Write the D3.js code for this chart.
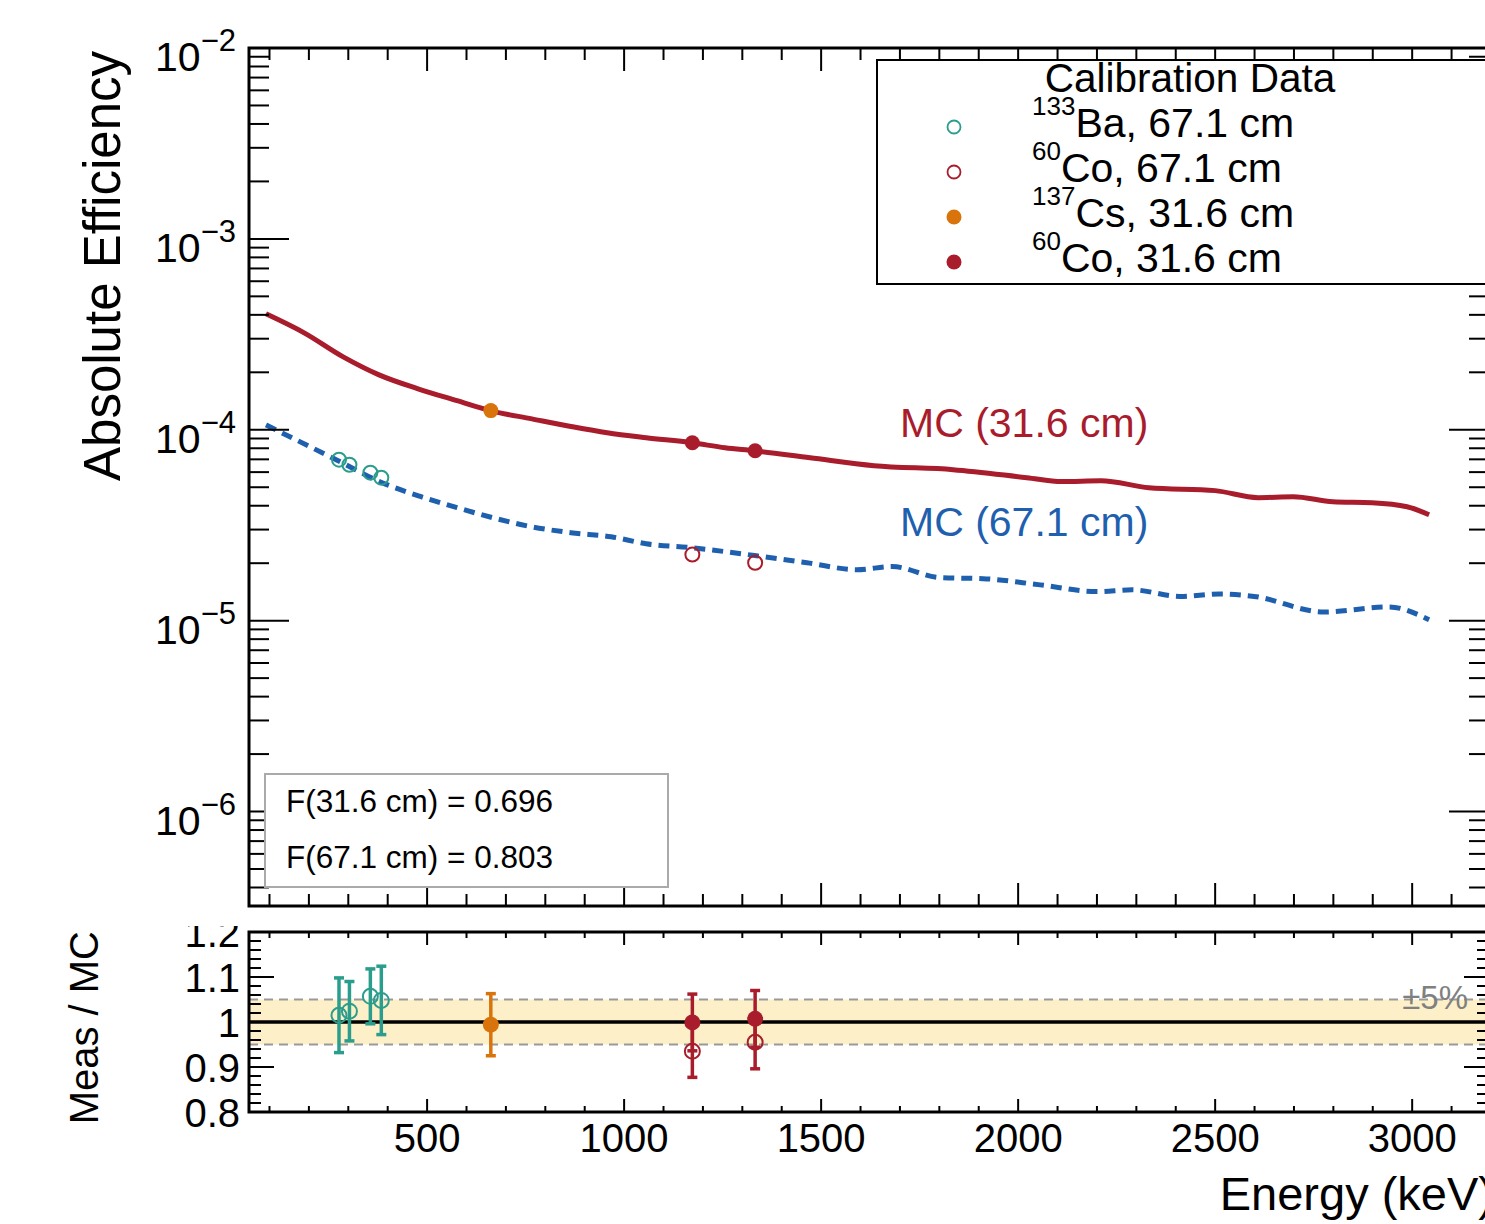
<!DOCTYPE html>
<html>
<head>
<meta charset="utf-8">
<script src="https://cdn.jsdelivr.net/npm/d3@7"></script>
<style>
  html, body { margin: 0; padding: 0; background: #fff; }
  svg { display: block; }
  text { font-family: "Liberation Sans", Arial, Helvetica, sans-serif; }
</style>
</head>
<body>
<div id="chart"></div>
<script>
// ---------------- data ----------------
// MC curve, 31.6 cm (solid red)
const mcNearEnergy = [91,188,287,378,477,576,660,766,865,957,1056,1172,1256,1330,1472,1634,1835,2022,2111,2210,2332,2500,2609,2698,2799,2898,2987,3043];
const mcNearEff = [4.05e-4,3.22e-4,2.41e-4,1.94e-4,1.64e-4,1.42e-4,1.26e-4,1.14e-4,1.04e-4,9.64e-5,9.08e-5,8.55e-5,8.05e-5,7.76e-5,7.13e-5,6.48e-5,6.18e-5,5.61e-5,5.35e-5,5.41e-5,4.97e-5,4.80e-5,4.41e-5,4.46e-5,4.20e-5,4.15e-5,3.95e-5,3.59e-5];
// MC curve, 67.1 cm (dashed blue)
const mcFarEnergy = [91,167,269,386,485,576,667,766,865,967,1056,1172,1256,1355,1464,1591,1680,1802,1911,2056,2200,2289,2411,2510,2599,2776,2941,3043];
const mcFarEff = [1.06e-4,8.87e-5,6.97e-5,5.28e-5,4.46e-5,3.91e-5,3.46e-5,3.10e-5,2.89e-5,2.75e-5,2.53e-5,2.41e-5,2.30e-5,2.16e-5,2.01e-5,1.85e-5,1.92e-5,1.68e-5,1.66e-5,1.54e-5,1.42e-5,1.45e-5,1.34e-5,1.38e-5,1.34e-5,1.11e-5,1.18e-5,1.01e-5];

// Calibration points
const ba133Energy = [276.4, 302.9, 356.0, 383.8];
const ba133Eff    = [6.97e-5, 6.56e-5, 5.96e-5, 5.61e-5];
const ba133Ratio  = [1.015, 1.024, 1.057, 1.048];
const ba133Err    = [0.083, 0.066, 0.061, 0.076];

const co60FarEnergy = [1173.2, 1332.5];
const co60FarEff    = [2.22e-5, 2.01e-5];
const co60FarRatio  = [0.935, 0.955];
const co60FarErr    = [0.058, 0.059];

const cs137Energy = [661.7];
const cs137Eff    = [1.26e-4];
const cs137Ratio  = [0.994];
const cs137Err    = [0.069];

const co60NearEnergy = [1173.2, 1332.5];
const co60NearEff    = [8.55e-5, 7.76e-5];
const co60NearRatio  = [0.999, 1.007];
const co60NearErr    = [0.063, 0.063];

const xTickLabels = [500, 1000, 1500, 2000, 2500, 3000];
const yMainDecades = [-6, -5, -4, -3, -2];
const yRatioLabels = ["0.8", "0.9", "1", "1.1", "1.2"];
const fValues = ["F(31.6 cm) = 0.696", "F(67.1 cm) = 0.803"];

const legendTitle = "Calibration Data";
const legendIso = ["133", "60", "137", "60"];
const legendText = ["Ba, 67.1 cm", "Co, 67.1 cm", "Cs, 31.6 cm", "Co, 31.6 cm"];

// ---------------- style ----------------
const C = {
  teal: "#2a9d8c",
  red: "#a81c2c",
  orange: "#d9730b",
  blue: "#1f60ae",
  band: "#fdf0c9",
  grey: "#999999"
};
const legendStyle = [
  {color: C.teal, open: true},
  {color: C.red, open: true},
  {color: C.orange, open: false},
  {color: C.red, open: false}
];

const W = 1485, H = 1224;
const L = 249, R = 1489;
const mainTop = 48, mainBot = 906;
const ratTop = 932, ratBot = 1112;

const svg = d3.select("#chart").append("svg")
  .attr("width", W).attr("height", H);

const x = d3.scaleLinear().domain([48, 3195]).range([L, R]);
const yMain = d3.scaleLog().domain([3.2e-7, 1e-2]).range([mainBot, mainTop]);
const yRat = d3.scaleLinear().domain([0.8, 1.2]).range([ratBot, ratTop]);

const xTicks = d3.range(100, 3200, 100).filter(v => v >= 48 && v <= 3195);

// ================= RATIO PANEL =================
const gR = svg.append("g");

gR.append("rect")
  .attr("x", L).attr("width", R - L)
  .attr("y", yRat(1.05)).attr("height", yRat(0.95) - yRat(1.05))
  .attr("fill", C.band);
[0.95, 1.05].forEach(v => {
  gR.append("line")
    .attr("x1", L).attr("x2", R).attr("y1", yRat(v)).attr("y2", yRat(v))
    .attr("stroke", C.grey).attr("stroke-width", 2)
    .attr("stroke-dasharray", "9,6");
});
gR.append("line")
  .attr("x1", L).attr("x2", R).attr("y1", yRat(1)).attr("y2", yRat(1))
  .attr("stroke", "#000").attr("stroke-width", 3.5);

gR.append("text")
  .attr("x", 1468).attr("y", 1009)
  .attr("text-anchor", "end")
  .attr("font-size", 33).attr("fill", "#808080")
  .text("±5%");

// ticks ratio
xTicks.forEach(v => {
  const major = v % 500 === 0;
  const len = major ? 13 : 6;
  gR.append("line").attr("x1", x(v)).attr("x2", x(v))
    .attr("y1", ratBot).attr("y2", ratBot - len)
    .attr("stroke", "#000").attr("stroke-width", 2);
  gR.append("line").attr("x1", x(v)).attr("x2", x(v))
    .attr("y1", ratTop).attr("y2", ratTop + len)
    .attr("stroke", "#000").attr("stroke-width", 2);
});
d3.range(0, 21).map(i => 0.8 + i * 0.02).forEach((v, i) => {
  const major = i % 5 === 0;
  const len = major ? 25 : 12;
  gR.append("line").attr("x1", L).attr("x2", L + len)
    .attr("y1", yRat(v)).attr("y2", yRat(v))
    .attr("stroke", "#000").attr("stroke-width", 2);
  gR.append("line").attr("x1", R).attr("x2", R - len)
    .attr("y1", yRat(v)).attr("y2", yRat(v))
    .attr("stroke", "#000").attr("stroke-width", 2);
});

// ratio points
function errBars(g, E, Rv, Er, color) {
  E.forEach((e, i) => {
    const cx = x(e);
    const y1 = yRat(Rv[i] + Er[i]), y2 = yRat(Rv[i] - Er[i]);
    g.append("line").attr("x1", cx).attr("x2", cx).attr("y1", y1).attr("y2", y2)
      .attr("stroke", color).attr("stroke-width", 3.5);
    [y1, y2].forEach(yy => {
      g.append("line").attr("x1", cx - 5).attr("x2", cx + 5).attr("y1", yy).attr("y2", yy)
        .attr("stroke", color).attr("stroke-width", 3.5);
    });
  });
}
function markers(g, E, V, yScale, color, open, r) {
  g.selectAll(null).data(E.map((e, i) => [e, V[i]])).enter()
    .append("circle")
    .attr("cx", d => x(d[0])).attr("cy", d => yScale(d[1]))
    .attr("r", r)
    .attr("fill", open ? "#fff" : color)
    .attr("fill-opacity", open ? 0 : 1)
    .attr("stroke", color).attr("stroke-width", open ? 2 : 0);
}
errBars(gR, ba133Energy, ba133Ratio, ba133Err, C.teal);
errBars(gR, cs137Energy, cs137Ratio, cs137Err, C.orange);
errBars(gR, co60NearEnergy, co60NearRatio, co60NearErr, C.red);
errBars(gR, co60FarEnergy, co60FarRatio, co60FarErr, C.red);
markers(gR, ba133Energy, ba133Ratio, yRat, C.teal, true, 7.5);
markers(gR, co60FarEnergy, co60FarRatio, yRat, C.red, true, 7.5);
markers(gR, cs137Energy, cs137Ratio, yRat, C.orange, false, 8);
markers(gR, co60NearEnergy, co60NearRatio, yRat, C.red, false, 8);

// ratio frame
gR.append("rect").attr("x", L).attr("y", ratTop)
  .attr("width", R - L).attr("height", ratBot - ratTop)
  .attr("fill", "none").attr("stroke", "#000").attr("stroke-width", 3);

// ratio labels
yRatioLabels.forEach(s => {
  gR.append("text").attr("x", 240).attr("y", yRat(+s) + 14.5)
    .attr("text-anchor", "end").attr("font-size", 40).text(s);
});
xTickLabels.forEach(v => {
  gR.append("text").attr("x", x(v)).attr("y", 1152)
    .attr("text-anchor", "middle").attr("font-size", 40).text(v);
});
gR.append("text")
  .attr("transform", "translate(98," + 931 + ") rotate(-90)")
  .attr("text-anchor", "end").attr("font-size", 40)
  .text("Meas / MC");
svg.append("text")
  .attr("x", 1494).attr("y", 1210)
  .attr("text-anchor", "end").attr("font-size", 47)
  .text("Energy (keV)");

// ================= MAIN PANEL =================
svg.append("rect").attr("x", 0).attr("y", 0).attr("width", W).attr("height", 926).attr("fill", "#fff");
const gM = svg.append("g");

gM.append("clipPath").attr("id", "clipMain")
  .append("rect").attr("x", L).attr("y", mainTop).attr("width", R - L).attr("height", mainBot - mainTop);

const curves = gM.append("g").attr("clip-path", "url(#clipMain)");
const line = d3.line().x(d => x(d[0])).y(d => yMain(d[1])).curve(d3.curveMonotoneX);

curves.append("path")
  .datum(mcNearEnergy.map((e, i) => [e, mcNearEff[i]]))
  .attr("d", line).attr("fill", "none")
  .attr("stroke", C.red).attr("stroke-width", 5);
curves.append("path")
  .datum(mcFarEnergy.map((e, i) => [e, mcFarEff[i]]))
  .attr("d", line).attr("fill", "none")
  .attr("stroke", C.blue).attr("stroke-width", 5)
  .attr("stroke-dasharray", "11,7");

markers(curves, ba133Energy, ba133Eff, yMain, C.teal, true, 7);
markers(curves, co60FarEnergy, co60FarEff, yMain, C.red, true, 7);
markers(curves, cs137Energy, cs137Eff, yMain, C.orange, false, 7.5);
markers(curves, co60NearEnergy, co60NearEff, yMain, C.red, false, 7.5);

// curve labels
gM.append("text").attr("x", 900).attr("y", 437).attr("font-size", 41)
  .attr("fill", C.red).text("MC (31.6 cm)");
gM.append("text").attr("x", 900).attr("y", 536).attr("font-size", 41)
  .attr("fill", C.blue).text("MC (67.1 cm)");

// ticks main
xTicks.forEach(v => {
  const major = v % 500 === 0;
  const len = major ? 23 : 12;
  gM.append("line").attr("x1", x(v)).attr("x2", x(v))
    .attr("y1", mainBot).attr("y2", mainBot - len)
    .attr("stroke", "#000").attr("stroke-width", 2);
  gM.append("line").attr("x1", x(v)).attr("x2", x(v))
    .attr("y1", mainTop).attr("y2", mainTop + len)
    .attr("stroke", "#000").attr("stroke-width", 2);
});
yMain.ticks().forEach(v => {
  const lg = Math.log10(v);
  const major = Math.abs(lg - Math.round(lg)) < 1e-9;
  const len = major ? 40 : 20;
  gM.append("line").attr("x1", L).attr("x2", L + len)
    .attr("y1", yMain(v)).attr("y2", yMain(v))
    .attr("stroke", "#000").attr("stroke-width", 2);
  gM.append("line").attr("x1", R).attr("x2", R - len)
    .attr("y1", yMain(v)).attr("y2", yMain(v))
    .attr("stroke", "#000").attr("stroke-width", 2);
});

// F box
gM.append("rect").attr("x", 265).attr("y", 774).attr("width", 403).attr("height", 113)
  .attr("fill", "#fff").attr("stroke", "#aaaaaa").attr("stroke-width", 2);
fValues.forEach((s, i) => {
  gM.append("text").attr("x", 286).attr("y", 812 + i * 56)
    .attr("font-size", 31.5).text(s);
});

// main frame
gM.append("rect").attr("x", L).attr("y", mainTop)
  .attr("width", R - L).attr("height", mainBot - mainTop)
  .attr("fill", "none").attr("stroke", "#000").attr("stroke-width", 3);

// y labels main
yMainDecades.forEach(p => {
  const t = gM.append("text").attr("x", 236).attr("y", yMain(Math.pow(10, p)) + 23)
    .attr("text-anchor", "end").attr("font-size", 41);
  t.append("tspan").text("10");
  t.append("tspan").attr("font-size", 31).attr("dy", -20).text("\u2212" + Math.abs(p));
});
gM.append("text")
  .attr("transform", "translate(120,51) rotate(-90)")
  .attr("text-anchor", "end").attr("font-size", 51)
  .text("Absolute Efficiency");

// legend
const lg = gM.append("g");
lg.append("rect").attr("x", 877).attr("y", 60).attr("width", 640).attr("height", 224)
  .attr("fill", "#fff").attr("stroke", "#000").attr("stroke-width", 2);
lg.append("text").attr("x", 1190).attr("y", 92).attr("text-anchor", "middle")
  .attr("font-size", 40.5).text(legendTitle);
legendText.forEach((s, i) => {
  const yb = 137 + i * 45;
  const st = legendStyle[i];
  lg.append("circle").attr("cx", 954).attr("cy", yb - 10)
    .attr("r", st.open ? 6.5 : 7.5)
    .attr("fill", st.open ? "none" : st.color)
    .attr("stroke", st.color).attr("stroke-width", st.open ? 1.8 : 0);
  const t = lg.append("text").attr("x", 1032).attr("y", yb).attr("font-size", 41);
  t.append("tspan").attr("font-size", 26).attr("dy", -22).text(legendIso[i]);
  t.append("tspan").attr("dy", 22).text(s);
});
</script>
</body>
</html>
